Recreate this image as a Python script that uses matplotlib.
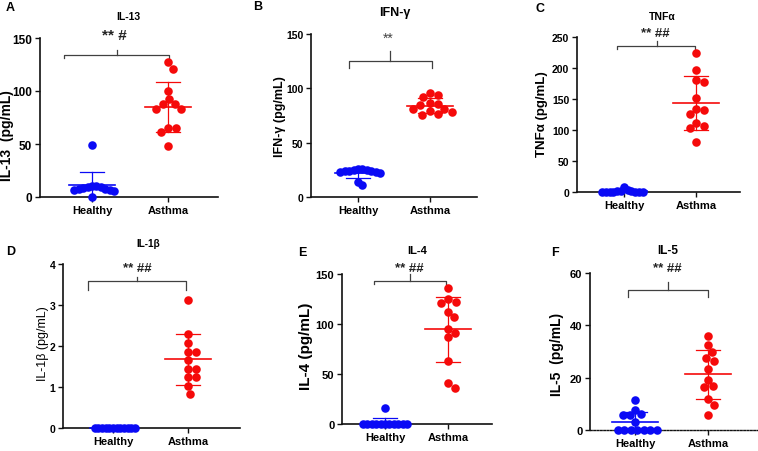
import numpy as np
import matplotlib
matplotlib.use('Agg')
import matplotlib.pyplot as plt

plt.rcParams['font.family'] = ['Liberation Sans', 'DejaVu Sans']

# ---------------- data ----------------
groups = ['Healthy', 'Asthma']

il13_healthy = [49, 10.5, 10, 9.5, 9, 8.5, 8, 7.5, 7, 6.5, 6, 0]
il13_asthma = [127, 121, 100, 92.5, 87.4, 87.4, 83, 83, 65.4, 65.4, 61.6, 47.8]

ifng_healthy = [26, 25.5, 25, 24.5, 24, 24, 23.5, 23, 23, 22.5, 13.5, 11]
ifng_asthma = [95.7, 93.9, 91.7, 86.5, 85.6, 84.7, 81, 81, 78.9, 77.9, 76.4, 75.5]

tnfa_healthy = [8.5, 3, 2, 1.5, 1, 0.5, 0.5, 0, 0, 0, 0, 0]
tnfa_asthma = [224, 196, 181, 177, 152, 134, 132, 126, 112, 106, 103, 80]

il1b_healthy = [0] * 12
il1b_asthma = [3.12, 2.29, 2.07, 1.86, 1.86, 1.66, 1.45, 1.45, 1.25, 1.25, 1.03, 0.84]

il4_healthy = [16] + [0] * 11
il4_asthma = [135.7, 125, 122.3, 120.7, 112.3, 106.7, 95, 90.7, 86.7, 63.3, 41, 36]

il5_healthy = [11.5, 7.6, 6.3, 5.7, 5.7, 2.9, 0, 0, 0, 0, 0, 0, 0]
il5_asthma = [36, 32.5, 29.7, 27.4, 26.4, 23.2, 19.1, 16.7, 16.4, 11.8, 9.6, 5.9]

titles = ['IL-13', 'IFN-γ', 'TNFα', 'IL-1β', 'IL-4', 'IL-5']
ylabels = ['IL-13  (pg/mL)', 'IFN-γ (pg/mL)', 'TNFα (pg/mL)', 'IL-1β (pg/mL)',
           'IL-4 (pg/mL)', 'IL-5  (pg/mL)']
signif = ['** #', '**', '** ##', '** ##', '** ##', '** ##']
letters = ['A', 'B', 'C', 'D', 'E', 'F']
yticks = [[0, 50, 100, 150], [0, 50, 100, 150], [0, 50, 100, 150, 200, 250],
          [0, 1, 2, 3, 4], [0, 50, 100, 150], [0, 20, 40, 60]]
series = [(il13_healthy, il13_asthma), (ifng_healthy, ifng_asthma),
          (tnfa_healthy, tnfa_asthma), (il1b_healthy, il1b_asthma),
          (il4_healthy, il4_asthma), (il5_healthy, il5_asthma)]

# ---------------- layout (pixels) ----------------
W, H = 758, 452
layout = [
    dict(box=(40, 218, 39, 198), xlim=(-0.684, 1.658), title=(128, 17, 7.5),
         letter=(6, 8), ylab=(7, 136, 10, 'bold'), sig=(114, 40, 11, 'bold', '#222222'),
         br=(-0.37, 1.01, 0.33, 134, 130.8, 139), tick=8.5),
    dict(box=(311, 477, 35, 198), xlim=(-0.653, 1.653), title=(395, 13, 9),
         letter=(253, 7), ylab=(280, 117, 9, 'bold'), sig=(388, 43, 10, 'normal', '#444444'),
         br=(-0.125, 1.03, 0.45, 125, 118.7, 134), tick=7.5),
    dict(box=(577, 740, 38, 193), xlim=(-0.653, 1.611), title=(662, 17, 7.5),
         letter=(535, 9), ylab=(542, 114, 9.5, 'bold'), sig=(655, 37, 9.5, 'bold', '#222222'),
         br=(-0.1, 0.99, 0.46, 235, 231, 244), tick=7.5),
    dict(box=(63, 240, 265, 429), xlim=(-0.667, 1.693), title=(148, 244, 7.2),
         letter=(6, 252), ylab=(43, 344, 9, 'normal'), sig=(137, 272, 9.5, 'bold', '#222222'),
         br=(-0.33, 0.97, 0.32, 3.59, 3.37, 3.68), tick=7.5),
    dict(box=(342, 492, 275, 425), xlim=(-0.683, 1.698), title=(417, 251, 8),
         letter=(298, 253), ylab=(306, 346, 11, 'bold'), sig=(409, 272, 9.5, 'bold', '#222222'),
         br=(-0.17, 0.97, 0.40, 143, 140, 150), tick=8),
    dict(box=(590, 757, 274, 431), xlim=(-0.616, 1.671), title=(668, 251, 8.5),
         letter=(551, 253), ylab=(557, 354, 10, 'bold'), sig=(667, 272, 9.5, 'bold', '#222222'),
         br=(-0.10, 1.00, 0.45, 53.5, 50.8, 56.5), tick=8),
]

colors = ['#0a0af5', '#f50a0a']

fig = plt.figure(figsize=(W / 100, H / 100), dpi=100)


def fx(px):
    return px / W


def fy(py):
    return 1 - py / H


def swarm_offsets(vals, px_per_y, d=8.0, step=0.5, wmax=22.0):
    vals = np.asarray(vals, float)
    order = np.argsort(-vals, kind='stable')
    cands = [0.0]
    k = 1
    while k * step <= 200:
        cands += [k * step, -k * step]
        k += 1
    placed = []
    offs = np.zeros(len(vals))
    for i in order:
        y = vals[i] * px_per_y
        for c in cands:
            if all((c - px) ** 2 + (y - py) ** 2 >= d * d for px, py in placed):
                break
        offs[i] = c
        placed.append((c, y))
    m = np.abs(offs).max()
    if m > wmax:
        offs *= wmax / m
    return offs


for p in range(6):
    L = layout[p]
    left, right, top, bottom = L['box']
    ax = fig.add_axes([fx(left), fy(bottom), (right - left) / W, (bottom - top) / H])
    ymax = yticks[p][-1]
    ax.set_ylim(0, ymax)
    ax.set_xlim(*L['xlim'])
    ppx = (right - left) / (L['xlim'][1] - L['xlim'][0])
    ppy = (bottom - top) / ymax

    for gi, vals in enumerate(series[p]):
        vals = np.asarray(vals, float)
        offs = swarm_offsets(vals, ppy)
        ax.scatter(gi + offs / ppx, vals, s=38, color=colors[gi], linewidths=0,
                   zorder=5, clip_on=False)
        m = vals.mean()
        s = vals.std(ddof=1)
        hw = 23 / ppx
        cw = 12 / ppx
        ax.plot([gi - hw, gi + hw], [m, m], color=colors[gi], lw=1.2, zorder=6, clip_on=False)
        lo = max(m - s, 0)
        ax.plot([gi, gi], [lo, m + s], color=colors[gi], lw=0.9, zorder=6, clip_on=False)
        ax.plot([gi - cw, gi + cw], [m + s, m + s], color=colors[gi], lw=0.9, zorder=6, clip_on=False)
        if m - s > 0:
            ax.plot([gi - cw, gi + cw], [m - s, m - s], color=colors[gi], lw=0.9, zorder=6,
                    clip_on=False)

    # bracket
    x0, x1, xc, yb, yd, yu = L['br']
    ax.plot([x0, x0, x1, x1], [yd, yb, yb, yd], color='#404040', lw=0.9, clip_on=False)
    ax.plot([xc, xc], [yb, yu], color='#404040', lw=0.9, clip_on=False)

    ax.spines['top'].set_visible(False)
    ax.spines['right'].set_visible(False)
    for sp in ('left', 'bottom'):
        ax.spines[sp].set_linewidth(1.2)
        ax.spines[sp].set_color('#111111')
    if p == 5:
        ax.spines['bottom'].set_linestyle((0, (1.2, 1.2)))
        ax.spines['bottom'].set_linewidth(1.0)
    ax.set_yticks(yticks[p])
    ax.set_yticklabels([str(t) for t in yticks[p]], fontsize=L['tick'], fontweight='bold')
    ax.set_xticks([0, 1])
    ax.set_xticklabels(groups, fontsize=8, fontweight='bold')
    ax.tick_params(direction='out', length=3.5, width=1.0, pad=2, color='#111111')
    ax.patch.set_alpha(0)

    # texts
    tx, ty, ts = L['title']
    fig.text(fx(tx), fy(ty), titles[p], ha='center', va='center', fontsize=ts, fontweight='bold')
    lx, ly = L['letter']
    fig.text(fx(lx), fy(ly), letters[p], ha='left', va='center', fontsize=9, fontweight='bold')
    yx, yy, ys, yw = L['ylab']
    fig.text(fx(yx), fy(yy), ylabels[p], rotation=90, ha='center', va='center',
             fontsize=ys, fontweight=yw)
    sx, sy, ss, sw, sc = L['sig']
    fig.text(fx(sx), fy(sy), signif[p], ha='center', va='baseline', fontsize=ss,
             fontweight=sw, color=sc)

fig.savefig('out.png', dpi=100)
